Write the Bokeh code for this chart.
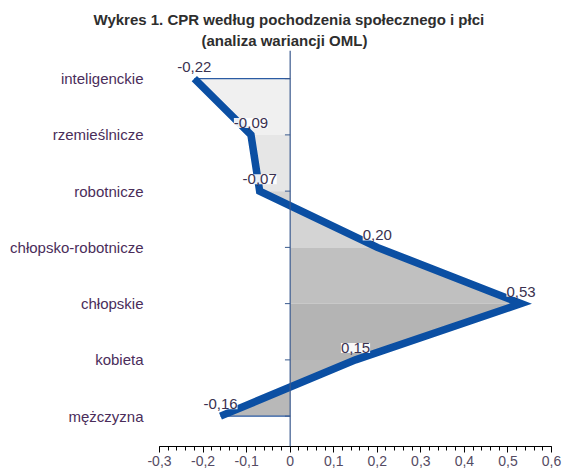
from bokeh.plotting import figure
from bokeh.models import Range1d, FixedTicker, Span, Title, ColumnDataSource
from bokeh.core.properties import value
from bokeh.embed import file_html
from bokeh.resources import INLINE

categories = ["inteligenckie", "rzemieślnicze", "robotnicze", "chłopsko-robotnicze",
              "chłopskie", "kobieta", "mężczyzna"]
values = [-0.22, -0.09, -0.07, 0.20, 0.53, 0.15, -0.16]
x_ticks = [-0.3, -0.2, -0.1, 0.0, 0.1, 0.2, 0.3, 0.4, 0.5, 0.6]
x_tick_labels = ["-0,3", "-0,2", "-0,1", "0", "0,1", "0,2", "0,3", "0,4", "0,5", "0,6"]
title_line1 = "Wykres 1. CPR według pochodzenia społecznego i płci"
title_line2 = "(analiza wariancji OML)"

ypos = list(range(len(categories)))
fill_colors = ["#f0f0f0", "#e6e6e6", "#d4d4d4", "#c0c0c0", "#b4b4b4", "#b8b8b8"]

FONT = "Liberation Sans"

p = figure(width=564, height=472, output_backend="svg", toolbar_location=None,
           x_range=Range1d(-0.3, 0.6), y_range=Range1d(6.54, -0.5),
           min_border_left=159, min_border_right=13, min_border_top=50, min_border_bottom=26)
p.title = None
p.grid.visible = False
p.outline_line_color = None
p.background_fill_color = "white"

# area fill between line and zero, segment by segment
xs, ys = [], []
for i in range(len(values) - 1):
    xs.append([0, values[i], values[i + 1], 0])
    ys.append([ypos[i], ypos[i], ypos[i + 1], ypos[i + 1]])
p.patches(xs, ys, fill_color=fill_colors, line_color=None)

# boundary lines at top and bottom
p.segment(x0=[values[0], values[-1]], y0=[ypos[0], ypos[-1]], x1=[0, 0], y1=[ypos[0], ypos[-1]],
          line_color="#2b5ba3", line_width=1.2)

# zero line
p.add_layout(Span(location=0, dimension="height", line_color="#3a5a8e", line_width=1.2))
p.segment(x0=[-0.012] * len(ypos), y0=ypos, x1=[0] * len(ypos), y1=ypos,
          line_color="#3a5a8e", line_width=1)

# thick line
p.line(values, ypos, line_color="#0b4fa3", line_width=7.5, line_join="miter")

# data labels
lab = ColumnDataSource(dict(x=values, y=ypos,
                            t=[("%.2f" % v).replace(".", ",") for v in values]))
p.text(x="x", y="y", text="t", source=lab, text_align="center", text_baseline="middle",
       y_offset=-12, text_font=value(FONT), text_font_size="15px", text_color="#3a3150",
       background_fill_color="white", background_fill_alpha=0.9, padding=0)

# axes
xa = p.xaxis[0]
xa.ticker = FixedTicker(ticks=x_ticks,
                        minor_ticks=[round(-0.3 + 0.02 * k, 2) for k in range(46)])
xa.major_label_overrides = {t: l for t, l in zip(x_ticks, x_tick_labels)}
xa.axis_line_color = "black"
xa.major_tick_line_color = "black"
xa.minor_tick_line_color = "black"
xa.major_tick_in = 0
xa.major_tick_out = 6
xa.minor_tick_in = 0
xa.minor_tick_out = 4
xa.major_label_standoff = 3
xa.major_label_text_font = FONT
xa.major_label_text_font_size = "14px"
xa.major_label_text_color = "#554b63"

ya = p.yaxis[0]
ya.ticker = FixedTicker(ticks=ypos)
ya.major_label_overrides = {i: c for i, c in zip(ypos, categories)}
ya.axis_line_color = None
ya.major_tick_line_color = None
ya.minor_tick_line_color = None
ya.major_label_standoff = 10
ya.major_label_text_font = FONT
ya.major_label_text_font_size = "15px"
ya.major_label_text_color = "#4a2d5a"

p.add_layout(Title(text=title_line2, align="left", offset=42, text_font=FONT,
                   text_font_size="15px", text_font_style="bold", text_color="#2e2e2e",
                   standoff=4), "above")
p.add_layout(Title(text=title_line1, align="left", offset=-66, text_font=FONT,
                   text_font_size="15px", text_font_style="bold", text_color="#2e2e2e",
                   standoff=0), "above")

open("out.html", "w").write(file_html(p, INLINE))
